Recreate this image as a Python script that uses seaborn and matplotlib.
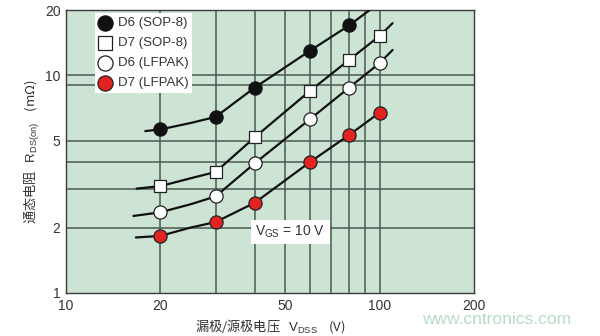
import matplotlib
matplotlib.use("Agg")
import matplotlib.pyplot as plt
import seaborn as sns
import pandas as pd
from matplotlib.ticker import FixedLocator, NullLocator, FixedFormatter

# ---- data ----
vdss = [20, 30, 40, 60, 80, 100]
d6_sop8 = [5.65, 6.45, 8.8, 13.0, 17.0]          # markers at 20..80
d7_sop8 = [3.1, 3.6, 5.2, 8.5, 11.8, 15.2]
d6_lfpak = [2.35, 2.78, 3.95, 6.3, 8.8, 11.4]
d7_lfpak = [1.83, 2.12, 2.6, 4.0, 5.33, 6.75]

# curve traces
d6_sop8_cx = [17.9, 20, 25, 30, 40, 60, 80, 93]
d6_sop8_cy = [5.55, 5.65, 6.05, 6.45, 8.8, 13.0, 17.0, 20.0]
d7_sop8_cx = [16.8, 20, 25, 30, 40, 60, 80, 100, 110]
d7_sop8_cy = [3.02, 3.1, 3.37, 3.6, 5.2, 8.5, 11.8, 15.2, 17.4]
d6_lfpak_cx = [16.4, 20, 25, 30, 40, 60, 80, 100, 110]
d6_lfpak_cy = [2.26, 2.35, 2.56, 2.78, 3.95, 6.3, 8.8, 11.4, 13.1]
d7_lfpak_cx = [16.7, 20, 25, 30, 40, 60, 80, 100]
d7_lfpak_cy = [1.80, 1.83, 2.0, 2.12, 2.6, 4.0, 5.33, 6.75]

series_names = ["D6 (SOP-8)", "D7 (SOP-8)", "D6 (LFPAK)", "D7 (LFPAK)"]

x_ticks = [10, 20, 50, 100, 200]
y_ticks = [1, 2, 5, 10, 20]
x_grid = [20, 30, 40, 50, 60, 70, 80, 90, 100]
y_grid = [2, 3, 4, 5, 9, 10]

# ---- style ----
sns.set_theme(style="white")
plt.rcParams["font.family"] = ["Liberation Sans", "Noto Sans CJK SC", "DejaVu Sans"]
plt.rcParams["mathtext.fontset"] = "custom"
plt.rcParams["mathtext.rm"] = "Liberation Sans"
plt.rcParams["mathtext.it"] = "Liberation Sans:italic"

TXT = "#333333"
GRID = "#4a5a52"
BG = "#cde4d5"
RED = "#e32222"

fig = plt.figure(figsize=(6.0, 3.36), dpi=100)
ax = fig.add_axes([66 / 600, 1 - 293 / 336, 408 / 600, 283 / 336])
ax.set_facecolor(BG)
ax.set_xscale("log")
ax.set_yscale("log")
ax.set_xlim(10, 200)
ax.set_ylim(1, 20)

for gx in x_grid:
    ax.axvline(gx, color=GRID, lw=1.1, zorder=1)
for gy in y_grid:
    ax.axhline(gy, color=GRID, lw=1.1, zorder=1)

curves = [
    (d6_sop8_cx, d6_sop8_cy),
    (d7_sop8_cx, d7_sop8_cy),
    (d6_lfpak_cx, d6_lfpak_cy),
    (d7_lfpak_cx, d7_lfpak_cy),
]
for cx, cy in curves:
    df = pd.DataFrame({"x": cx, "y": cy})
    sns.lineplot(data=df, x="x", y="y", ax=ax, color="#111111", lw=1.6,
                 sort=False, estimator=None, zorder=3)

marker_specs = [
    (vdss[:len(d6_sop8)], d6_sop8, "o", "#111111", "#111111"),
    (vdss, d7_sop8, "s", "white", "#222222"),
    (vdss, d6_lfpak, "o", "white", "#222222"),
    (vdss, d7_lfpak, "o", RED, "#222222"),
]
for name, (mx, my, mk, fc, ec) in zip(series_names, marker_specs):
    df = pd.DataFrame({"x": mx, "y": my})
    sns.scatterplot(data=df, x="x", y="y", ax=ax, marker=mk, s=90 if mk == "o" else 72,
                    color=fc, edgecolor=ec, linewidth=0.9, zorder=5, label=name)

ax.xaxis.set_major_locator(FixedLocator(x_ticks))
ax.xaxis.set_major_formatter(FixedFormatter([str(v) for v in x_ticks]))
ax.xaxis.set_minor_locator(NullLocator())
ax.yaxis.set_major_locator(FixedLocator(y_ticks))
ax.yaxis.set_major_formatter(FixedFormatter([str(v) for v in y_ticks]))
ax.yaxis.set_minor_locator(NullLocator())
ax.tick_params(axis="both", length=0, labelsize=10, colors=TXT, pad=4)

for sp in ax.spines.values():
    sp.set_color("#3a3a3a")
    sp.set_linewidth(1.0)

ax.set_xlabel("漏极/源极电压   $\\mathrm{V_{DSS}}$    (V)", family="Noto Sans CJK SC",
              fontsize=9.5, color=TXT, labelpad=3)
ax.set_ylabel("通态电阻   $\\mathrm{R_{DS(on)}}$    (mΩ)", family="Noto Sans CJK SC",
              fontsize=9.5, color=TXT, labelpad=2)

ax.text(52, 1.91, "$\\mathrm{V_{GS}}$ = 10 V", fontsize=10, color=TXT, ha="center",
        va="center", zorder=6,
        bbox=dict(boxstyle="square,pad=0.3", fc="white", ec="none"))

leg = ax.legend(loc="upper left", bbox_to_anchor=(0.07, 0.99), borderaxespad=0,
                frameon=True, fancybox=False, framealpha=1, edgecolor="white",
                fontsize=9.5, handletextpad=0.45, borderpad=0.3, labelspacing=0.6,
                handlelength=1.0, markerscale=1.15)
leg.get_frame().set_linewidth(0)
for t in leg.get_texts():
    t.set_color(TXT)
leg.set_zorder(7)

fig.text(497 / 600, 1 - 320 / 336, "www.cntronics.com", fontsize=12.5,
         color="#b7dcc3", ha="center", va="center")

fig.savefig("out.png", dpi=100)
